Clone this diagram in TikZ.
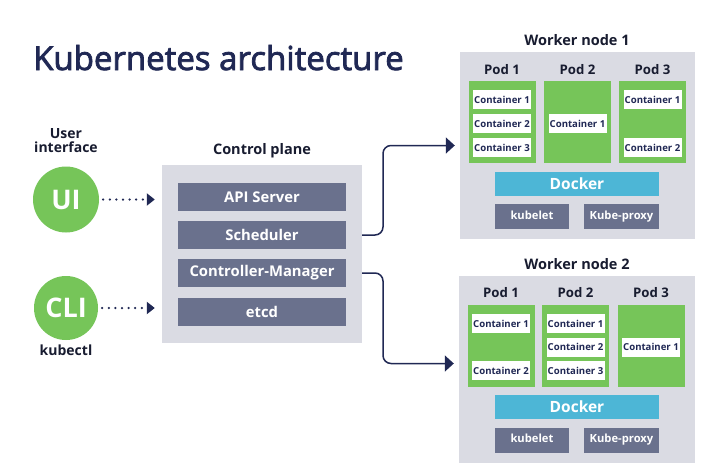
\documentclass[tikz,border=0pt]{standalone}
\usepackage{fontspec}
\setmainfont{Open Sans}
\usetikzlibrary{arrows.meta,calc}
\definecolor{navy}{RGB}{32,40,84}
\definecolor{ink}{RGB}{24,28,48}
\definecolor{grn}{RGB}{118,197,89}
\definecolor{bg}{RGB}{218,219,227}
\definecolor{slate}{RGB}{106,113,141}
\definecolor{dock}{RGB}{77,182,214}
\newcommand{\fs}[1]{\fontsize{#1}{#1}\selectfont}
\newcommand{\heavytext}[1]{\special{pdf:literal direct 2 Tr 0.8 w}#1\special{pdf:literal direct 0 Tr}}
\begin{document}
\begin{tikzpicture}[x=1pt,y=-1pt,
  box/.style={rectangle, inner sep=0pt, anchor=center},
  panel/.style={box, fill=bg},
  slatebox/.style={box, fill=slate, text=white, font=\bfseries\fs{14.8}, minimum width=168pt, minimum height=28pt},
  smallslate/.style={box, fill=slate, text=white, font=\bfseries\fs{11.2}, minimum width=74pt, minimum height=25pt, text height=8pt, text depth=2.2pt},
  pod/.style={box, fill=grn, minimum width=67pt, minimum height=82pt},
  ctr/.style={box, fill=white, text=navy, minimum width=58pt, minimum height=19pt, font=\bfseries\fs{9.6}},
  docker/.style={box, fill=dock, text=white, minimum width=164pt, minimum height=24pt, font=\bfseries\fs{15.5}},
  lbl/.style={text=ink, font=\bfseries\fs{14.5}, inner sep=0pt},
  podlbl/.style={text=ink, font=\bfseries\fs{13.2}, inner sep=0pt},
  bubble/.style={circle, fill=grn, text=white, inner sep=0pt, font=\bfseries\fs{27}},
  dotarrow/.style={navy, line width=2.5pt, dash pattern=on 0pt off 6.6pt, line cap=round, -{Triangle[length=8pt,width=12pt]}},
  conn/.style={navy, line width=1.5pt, rounded corners=8pt, -{Triangle[length=9pt,width=16pt]}, shorten >=5pt}
]
\useasboundingbox[fill=white] (0,0) rectangle (710,467);

% title
\node[anchor=base west, text=navy, font=\fs{33}, inner sep=0pt] (title) at (33,70) {\heavytext{Kubernetes architecture}};

% user interface
\node[lbl, align=center, font=\bfseries\fs{14}] (uilbl) at (66,141) {User\\interface};
\node[bubble, minimum size=66pt] (ui) at (66,199.5) {UI};
\node[bubble, minimum size=64pt] (cli) at (66,308) {CLI};
\node[lbl, font=\bfseries\fs{14}] (kubectl) at (66,350) {kubectl};

% control plane
\node[lbl] (cplbl) at (262,151) {Control plane};
\node[panel, minimum width=200pt, minimum height=178pt] (cp) at (262,254) {};
\node[slatebox] (api) at (262,197) {API Server};
\node[slatebox] (sched) at (262,235) {Scheduler};
\node[slatebox] (cm) at (262,273) {Controller-Manager};
\node[slatebox] (etcd) at (262,311.5) {etcd};

\draw[dotarrow, shorten <=4pt, shorten >=7pt] (ui) -- (ui -| cp.west);
\draw[dotarrow, shorten <=4pt, shorten >=7pt] (cli) -- (cli -| cp.west);

% worker node 1
\node[lbl] (w1lbl) at (577,40) {Worker node 1};
\node[panel, minimum width=235pt, minimum height=187pt] (w1) at (577.5,145.5) {};
\node[podlbl] (w1p1l) at (502,70) {Pod 1};
\node[podlbl] (w1p2l) at (577.5,70) {Pod 2};
\node[podlbl] (w1p3l) at (652.5,70) {Pod 3};
\node[pod] (w1p1) at (502,122) {};
\node[pod] (w1p2) at (577.5,122) {};
\node[pod] (w1p3) at (652.5,122) {};
\node[ctr] (w1p1c1) at (502,99.5) {Container 1};
\node[ctr] (w1p1c2) at (502,123.5) {Container 2};
\node[ctr] (w1p1c3) at (502,147.5) {Container 3};
\node[ctr] (w1p2c1) at (577.5,123.5) {Container 1};
\node[ctr] (w1p3c1) at (652.5,99.5) {Container 1};
\node[ctr] (w1p3c2) at (652.5,147.5) {Container 2};
\node[docker] (w1d) at (577,184) {Docker};
\node[smallslate] (w1k) at (532,216.5) {kubelet};
\node[smallslate, minimum width=75pt] (w1kp) at (621.5,216.5) {Kube-proxy};

% worker node 2
\node[lbl] (w2lbl) at (577,264) {Worker node 2};
\node[panel, minimum width=236pt, minimum height=187pt] (w2) at (577,369.5) {};
\node[podlbl] (w2p1l) at (501,293) {Pod 1};
\node[podlbl] (w2p2l) at (575.5,293) {Pod 2};
\node[podlbl] (w2p3l) at (651,293) {Pod 3};
\node[pod] (w2p1) at (501,345.5) {};
\node[pod] (w2p2) at (575.5,345.5) {};
\node[pod] (w2p3) at (651,345.5) {};
\node[ctr] (w2p1c1) at (501,323.5) {Container 1};
\node[ctr] (w2p1c2) at (501,370.5) {Container 2};
\node[ctr] (w2p2c1) at (575.5,323.5) {Container 1};
\node[ctr] (w2p2c2) at (575.5,347) {Container 2};
\node[ctr] (w2p2c3) at (575.5,370.5) {Container 3};
\node[ctr] (w2p3c1) at (651,347) {Container 1};
\node[docker] (w2d) at (577,407) {Docker};
\node[smallslate] (w2k) at (532,440) {kubelet};
\node[smallslate, minimum width=75pt] (w2kp) at (621.5,440) {Kube-proxy};

% connectors
\coordinate (j) at (383,0);
\coordinate (w2in) at ($(w2.west)+(0,-6)$);
\draw[conn] (sched.east -| cp.east) -- (sched.east -| j) |- (w1.west);
\draw[conn] (cm.east -| cp.east) -- (cm.east -| j) |- (w2in);
\end{tikzpicture}
\end{document}
